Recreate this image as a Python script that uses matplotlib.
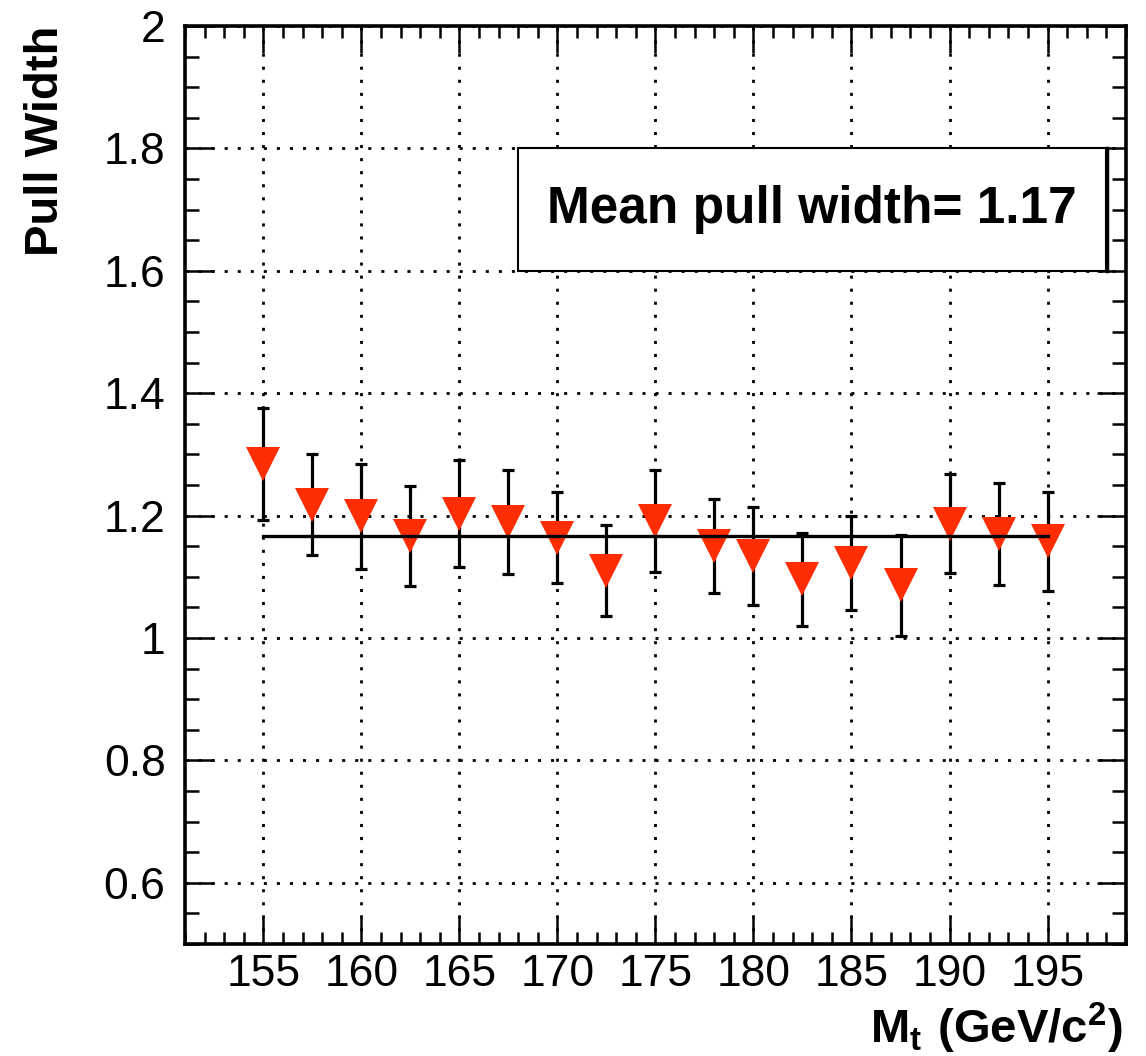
import matplotlib
matplotlib.use('Agg')
import matplotlib.pyplot as plt
from matplotlib.ticker import MultipleLocator
from matplotlib.patches import Rectangle

plt.rcParams['font.family'] = ['Liberation Sans', 'DejaVu Sans']
plt.rcParams['mathtext.fontset'] = 'custom'
plt.rcParams['mathtext.rm'] = 'Liberation Sans'
plt.rcParams['mathtext.bf'] = 'Liberation Sans:bold'

# data
mass = [155, 157.5, 160, 162.5, 165, 167.5, 170, 172.5, 175,
        178, 180, 182.5, 185, 187.5, 190, 192.5, 195]
width = [1.284, 1.218, 1.199, 1.167, 1.203, 1.190, 1.164, 1.110, 1.191,
         1.150, 1.134, 1.096, 1.123, 1.086, 1.187, 1.170, 1.158]
width_err = [0.091, 0.083, 0.086, 0.082, 0.087, 0.085, 0.074, 0.074, 0.083,
             0.077, 0.080, 0.076, 0.077, 0.082, 0.081, 0.083, 0.081]
fit_range = [155, 195]
fit_value = 1.166
box_text = 'Mean pull width= 1.17'

fig = plt.figure(figsize=(11.46, 10.56), dpi=100)
ax = fig.add_axes([0.1614, 0.1061, 0.8211, 0.8693])

ax.errorbar(mass, width, yerr=width_err, fmt='none', ecolor='black',
            elinewidth=2.3, capsize=4.5, capthick=2.3, zorder=3)
ax.plot(mass, width, linestyle='none', marker='v', markersize=25,
        color='#ff2d00', markeredgewidth=0, zorder=4)
ax.plot(fit_range, [fit_value, fit_value], color='black', lw=2.4, zorder=5)

ax.set_xlim(151, 199)
ax.set_ylim(0.5, 2.0)

ax.xaxis.set_minor_locator(MultipleLocator(1))
ax.yaxis.set_minor_locator(MultipleLocator(0.05))
ax.set_xticks([155, 160, 165, 170, 175, 180, 185, 190, 195])
ax.set_xticklabels(['155', '160', '165', '170', '175', '180', '185', '190', '195'])
ax.set_yticks([0.6, 0.8, 1.0, 1.2, 1.4, 1.6, 1.8, 2.0])
ax.set_yticklabels(['0.6', '0.8', '1', '1.2', '1.4', '1.6', '1.8', '2'])

ax.grid(True, which='major', color='black', linestyle=(0, (1.1, 3.6)), lw=2.0)
ax.set_axisbelow(True)

ax.tick_params(which='both', direction='in', top=True, right=True,
               width=1.8, labelsize=32)
ax.tick_params(axis='x', which='major', length=19.5, pad=7.5)
ax.tick_params(axis='x', which='minor', length=8.6)
ax.tick_params(axis='y', which='major', length=21, pad=14)
ax.tick_params(axis='y', which='minor', length=10)
for s in ax.spines.values():
    s.set_linewidth(2.6)

ax.set_xlabel(r'$\mathbf{M_t\ (GeV/c^2)}$', fontsize=34, loc='right')
ax.xaxis.set_label_coords(0.9968, -0.062)
ax.xaxis.label.set_va('top')
ax.set_ylabel('Pull Width', fontsize=34, fontweight='bold', loc='top')
ax.yaxis.set_label_coords(-0.124, 1.0)

# text box
ax.add_patch(Rectangle((168, 1.6), 30, 0.2, facecolor='white',
                       edgecolor='black', lw=1.5, zorder=6))
ax.plot([198.05, 198.05], [1.6, 1.8], color='black', lw=2.5, zorder=7)
ax.text(183, 1.7, box_text, fontsize=37, fontweight='bold',
        ha='center', va='center', zorder=8)

fig.savefig('out.png', dpi=100)
